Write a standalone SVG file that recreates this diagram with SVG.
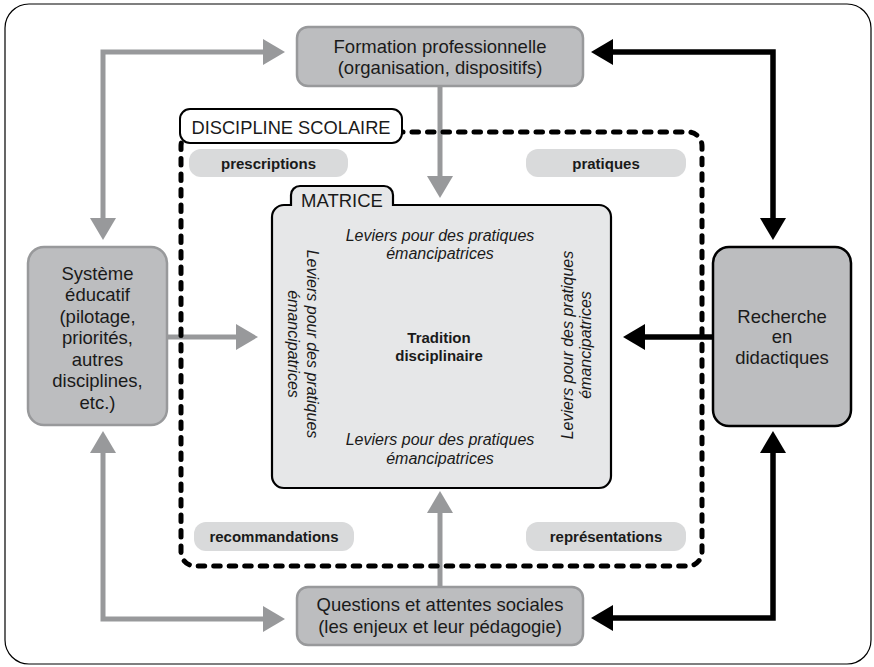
<svg xmlns="http://www.w3.org/2000/svg" width="874" height="667" viewBox="0 0 874 667">
<style>
text { font-family: "Liberation Sans", Arial, sans-serif; fill: #1a1a1a; }
.node { font-size: 18.5px; text-anchor: middle; }
.pill { fill: #d9dadb; }
.pilltxt { font-size: 15px; font-weight: bold; text-anchor: middle; }
.lev { font-size: 16px; font-style: italic; text-anchor: middle; }
.gbox { fill: #bcbdbf; stroke: #98999b; stroke-width: 2.5; }
.kbox { fill: #bcbdbf; stroke: #000; stroke-width: 2.5; }
.garr { fill: none; stroke: #98999b; stroke-width: 5; marker-end: url(#mg); }
.karr { fill: none; stroke: #000; stroke-width: 5.5; marker-end: url(#mk); }
.both.garr { marker-start: url(#mg); }
.both.karr { marker-start: url(#mk); }
</style>
<defs>
<marker id="mg" markerUnits="userSpaceOnUse" markerWidth="22" markerHeight="26" refX="0" refY="13" orient="auto-start-reverse" overflow="visible">
<path d="M0,0 L22,13 L0,26 z" fill="#98999b"/>
</marker>
<marker id="mk" markerUnits="userSpaceOnUse" markerWidth="22" markerHeight="26" refX="0" refY="13" orient="auto-start-reverse" overflow="visible">
<path d="M0,0 L22,13 L0,26 z" fill="#000"/>
</marker>
</defs>

<rect id="frame" x="5" y="4" width="866" height="660" rx="24" fill="#fff" stroke="#000" stroke-width="1.2"/>

<g id="connectors">
<path class="garr both" d="M103,218 L103,52 L263,52"/>
<path class="garr both" d="M103,453 L103,619 L263,619"/>
<path class="garr" d="M440,86 L440,176"/>
<path class="garr" d="M168,337 L236,337"/>
<path class="garr" d="M440,587 L440,513"/>
<path class="karr both" d="M613,52 L773,52 L773,218"/>
<path class="karr" d="M713,337 L645,337"/>
<path class="karr both" d="M773,453 L773,618 L613,618"/>
</g>

<g id="discipline">
<rect x="181" y="132" width="521" height="434" rx="14" fill="none" stroke="#000" stroke-width="5" stroke-dasharray="6.5 9" stroke-linecap="round"/>
<rect x="180" y="109" width="222" height="34" rx="10" fill="#fff" stroke="#000" stroke-width="2"/>
<text x="291" y="133.5" style="font-size:18.3px;text-anchor:middle">DISCIPLINE SCOLAIRE</text>
</g>

<g id="prescriptions">
<rect class="pill" x="189" y="149" width="159" height="28" rx="12"/>
<text class="pilltxt" x="268.5" y="168.5">prescriptions</text>
</g>
<g id="pratiques">
<rect class="pill" x="526" y="149" width="160" height="28" rx="12"/>
<text class="pilltxt" x="606" y="168.5">pratiques</text>
</g>
<g id="recommandations">
<rect class="pill" x="194" y="522" width="160" height="29" rx="12"/>
<text class="pilltxt" x="274" y="541.5">recommandations</text>
</g>
<g id="representations">
<rect class="pill" x="526" y="522" width="160" height="29" rx="12"/>
<text class="pilltxt" x="606" y="541.5">représentations</text>
</g>

<g id="matrice">
<rect x="272" y="205" width="339" height="283" rx="12" fill="#e6e7e8" stroke="#000" stroke-width="2.2"/>
<path d="M291,206 L291,195 A9,9 0 0 1 300,186 L384,186 A9,9 0 0 1 393,195 L393,206" fill="#e6e7e8" stroke="#000" stroke-width="2.2"/>
<text x="342" y="206.5" style="font-size:18.5px;text-anchor:middle">MATRICE</text>
<text class="lev" x="440" y="240.5">Leviers pour des pratiques</text>
<text class="lev" x="440" y="259">émancipatrices</text>
<text class="lev" x="440" y="445">Leviers pour des pratiques</text>
<text class="lev" x="440" y="463.5">émancipatrices</text>
<g transform="translate(302,344) rotate(90)">
<text class="lev" x="0" y="-4.5">Leviers pour des pratiques</text>
<text class="lev" x="0" y="14.5">émancipatrices</text>
</g>
<g transform="translate(576,345) rotate(-90)">
<text class="lev" x="0" y="-3.5">Leviers pour des pratiques</text>
<text class="lev" x="0" y="14.5">émancipatrices</text>
</g>
<text x="439" y="342.5" style="font-size:15px;font-weight:bold;text-anchor:middle">Tradition</text>
<text x="439" y="361" style="font-size:15px;font-weight:bold;text-anchor:middle">disciplinaire</text>
</g>

<g id="formation">
<rect class="gbox" x="297" y="27" width="286" height="59" rx="11"/>
<text class="node" x="440" y="52.5">Formation professionnelle</text>
<text class="node" x="440" y="74">(organisation, dispositifs)</text>
</g>

<g id="questions">
<rect class="gbox" x="297" y="587" width="286" height="58" rx="11"/>
<text class="node" x="440" y="611">Questions et attentes sociales</text>
<text class="node" x="440" y="632.5">(les enjeux et leur pédagogie)</text>
</g>

<g id="systeme">
<rect class="gbox" x="28" y="247" width="139" height="178" rx="16"/>
<text class="node" x="97.5" y="279.5">Système</text>
<text class="node" x="97.5" y="301">éducatif</text>
<text class="node" x="97.5" y="322.5">(pilotage,</text>
<text class="node" x="97.5" y="344">priorités,</text>
<text class="node" x="97.5" y="365.5">autres</text>
<text class="node" x="97.5" y="387">disciplines,</text>
<text class="node" x="97.5" y="408.5">etc.)</text>
</g>

<g id="recherche">
<rect class="kbox" x="713" y="247" width="138" height="179" rx="16"/>
<text class="node" x="782" y="322.5">Recherche</text>
<text class="node" x="782" y="343">en</text>
<text class="node" x="782" y="363.5">didactiques</text>
</g>
</svg>
